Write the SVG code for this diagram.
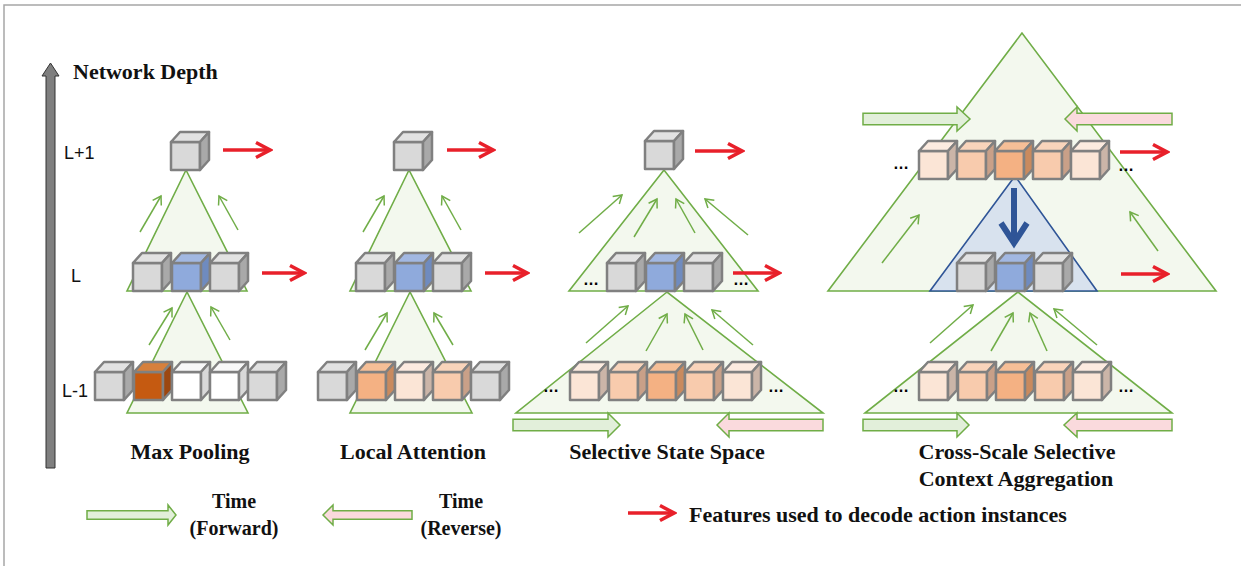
<svg xmlns="http://www.w3.org/2000/svg" width="1241" height="566" viewBox="0 0 1241 566">
  <defs>
    <style>
      .frame{stroke:#a6a6a6;stroke-width:1.5;fill:none}
      .tri{fill:#f3f8ee;stroke:#70ad47;stroke-width:1.6;stroke-linejoin:miter}
      .btri{fill:#d8e2ee;stroke:#2f5597;stroke-width:1.6}
      .gray{--f:#d9d9d9;--t:#e2e2e2;--s:#a9a9a9}
      .blue{--f:#8faadc;--t:#a2b8e2;--s:#6f8bbf}
      .dor{--f:#c55a11;--t:#d6803d;--s:#9c4710}
      .wht{--f:#ffffff;--t:#f8f8f8;--s:#d9d9d9}
      .org{--f:#f4b183;--t:#f6bf97;--s:#c98a5e}
      .med{--f:#f8cbad;--t:#f9d4bb;--s:#c9a088}
      .lgt{--f:#fbe5d6;--t:#fcebe0;--s:#cbb5a8}
      .ga{stroke:#70ad47;stroke-width:1.5;fill:none;marker-end:url(#gh)}
      .ra{stroke:#e8202a;stroke-width:3.5;fill:none;marker-end:url(#rh)}
      .fwd{fill:#e2efda;stroke:#70ad47;stroke-width:1.5}
      .rev{fill:#fadadd;stroke:#70ad47;stroke-width:1.5}
      .lbl{font-family:"Liberation Serif","Times New Roman",serif;font-weight:bold;font-size:22px;fill:#111;text-anchor:middle}
      .leg{font-family:"Liberation Serif","Times New Roman",serif;font-weight:bold;font-size:20px;fill:#111;text-anchor:middle}
      .lvl{font-family:"Liberation Sans",Arial,sans-serif;font-size:18px;fill:#111}
      .dots{font-family:"Liberation Sans",Arial,sans-serif;font-weight:bold;font-size:16px;fill:#000}
    </style>
    <!-- open chevron heads -->
    <marker id="gh" markerUnits="userSpaceOnUse" markerWidth="12" markerHeight="12" viewBox="-10 -6 12 12" refX="0" refY="0" orient="auto">
      <path d="M-8,-5 L0,0 L-8,5" fill="none" stroke="#70ad47" stroke-width="1.5"/>
    </marker>
    <marker id="rh" markerUnits="userSpaceOnUse" markerWidth="20" markerHeight="20" viewBox="-17 -10 20 20" refX="0" refY="0" orient="auto">
      <path d="M-14,-7.5 L0,0 L-14,7.5" fill="none" stroke="#e8202a" stroke-width="3.5"/>
    </marker>
    <!-- feature cube: front, top and side faces take their colours from custom properties set per class -->
    <g id="cb" stroke="#808080" stroke-width="2.5" stroke-linejoin="round">
      <rect x="0" y="0" width="29" height="28" style="fill:var(--f)"/>
      <path d="M0,0 L9,-10 H38 L29,0 Z" style="fill:var(--t)"/>
      <path d="M29,0 L38,-10 V18 L29,28 Z" style="fill:var(--s)"/>
    </g>
  </defs>

  <rect width="1241" height="566" fill="#ffffff"/>
  <path class="frame" d="M4,566 V5 H1241"/>

  <!-- depth axis -->
  <g id="depth-axis">
    <path d="M46,468 V76 H42 L50.5,63 L59,76 H55 V468 Z" fill="#7f7f7f" stroke="#333" stroke-width="1"/>
    <text class="lbl" x="73" y="79" style="text-anchor:start">Network Depth</text>
    <text class="lvl" x="64" y="159">L+1</text>
    <text class="lvl" x="71" y="282">L</text>
    <text class="lvl" x="62" y="397">L-1</text>
  </g>

  <!-- receptive-field triangles -->
  <g id="fields">
    <polygon class="tri" points="186,170 127,291 247,291"/>
    <polygon class="tri" points="187,292 127,413 248,413"/>
    <polygon class="tri" points="409,170 350,291 471,291"/>
    <polygon class="tri" points="410,292 350,413 472,413"/>
    <polygon class="tri" points="664,170 569,291 758,291"/>
    <polygon class="tri" points="667,292 516,413 823,413"/>
    <polygon class="tri" points="1022,33 828,291 1216,291"/>
    <polygon class="btri" points="1015,176 930,291 1097,291"/>
    <polygon class="tri" points="1018,292 865,413 1172,413"/>
  </g>

  <!-- Max Pooling -->
  <g id="max-pooling">
    <use href="#cb" class="gray" x="171" y="142"/>
    <use href="#cb" class="gray" x="133" y="263"/>
    <use href="#cb" class="blue" x="172" y="263"/>
    <use href="#cb" class="gray" x="210" y="263"/>
    <use href="#cb" class="gray" x="95" y="372"/>
    <use href="#cb" class="dor" x="134" y="372"/>
    <use href="#cb" class="wht" x="172" y="372"/>
    <use href="#cb" class="wht" x="210" y="372"/>
    <use href="#cb" class="gray" x="248" y="372"/>
    <text class="lbl" x="190" y="459">Max Pooling</text>
  </g>

  <!-- Local Attention -->
  <g id="local-attention">
    <use href="#cb" class="gray" x="394" y="142"/>
    <use href="#cb" class="gray" x="356" y="263"/>
    <use href="#cb" class="blue" x="395" y="263"/>
    <use href="#cb" class="gray" x="433" y="263"/>
    <use href="#cb" class="gray" x="318" y="372"/>
    <use href="#cb" class="org" x="357" y="372"/>
    <use href="#cb" class="lgt" x="395" y="372"/>
    <use href="#cb" class="med" x="433" y="372"/>
    <use href="#cb" class="gray" x="471" y="372"/>
    <text class="lbl" x="413" y="459">Local Attention</text>
  </g>

  <!-- Selective State Space -->
  <g id="selective-state-space">
    <use href="#cb" class="gray" x="645" y="141"/>
    <use href="#cb" class="gray" x="607" y="263"/>
    <use href="#cb" class="blue" x="646" y="263"/>
    <use href="#cb" class="gray" x="684" y="263"/>
    <use href="#cb" class="lgt" x="570" y="372"/>
    <use href="#cb" class="med" x="609" y="372"/>
    <use href="#cb" class="org" x="647" y="372"/>
    <use href="#cb" class="med" x="685" y="372"/>
    <use href="#cb" class="lgt" x="723" y="372"/>
    <text class="dots" x="583" y="285">…</text>
    <text class="dots" x="733" y="285">…</text>
    <text class="dots" x="543" y="392">…</text>
    <text class="dots" x="768" y="392">…</text>
    <path class="fwd" d="M513,419.3 H608 V413 L620,425 L608,437 V430.7 H513 Z"/>
    <path class="rev" d="M823,419.3 H729 V413 L717,425 L729,437 V430.7 H823 Z"/>
    <text class="lbl" x="667" y="459">Selective State Space</text>
  </g>

  <!-- Cross-Scale Selective Context Aggregation -->
  <g id="cross-scale-aggregation">
    <use href="#cb" class="lgt" x="919" y="151"/>
    <use href="#cb" class="med" x="957" y="151"/>
    <use href="#cb" class="org" x="995" y="151"/>
    <use href="#cb" class="med" x="1033" y="151"/>
    <use href="#cb" class="lgt" x="1071" y="151"/>
    <use href="#cb" class="gray" x="957" y="263"/>
    <use href="#cb" class="blue" x="996" y="263"/>
    <use href="#cb" class="gray" x="1034" y="263"/>
    <use href="#cb" class="lgt" x="919" y="372"/>
    <use href="#cb" class="med" x="958" y="372"/>
    <use href="#cb" class="org" x="996" y="372"/>
    <use href="#cb" class="med" x="1035" y="372"/>
    <use href="#cb" class="lgt" x="1073" y="372"/>
    <text class="dots" x="893" y="169">…</text>
    <text class="dots" x="1118" y="171">…</text>
    <text class="dots" x="893" y="392">…</text>
    <text class="dots" x="1118" y="392">…</text>
    <path class="fwd" d="M863,113.3 H957 V107 L970,119 L957,131 V124.7 H863 Z"/>
    <path class="rev" d="M1172,113.3 H1077 V107 L1065,119 L1077,131 V124.7 H1172 Z"/>
    <path class="fwd" d="M863,419.3 H957 V413 L969,425 L957,437 V430.7 H863 Z"/>
    <path class="rev" d="M1172,419.3 H1077 V413 L1064,425 L1077,437 V430.7 H1172 Z"/>
    <!-- top-down cross-scale path -->
    <line x1="1014" y1="188" x2="1014" y2="240" stroke="#2f5597" stroke-width="6"/>
    <polyline points="1001,223 1014,243 1027,223" fill="none" stroke="#2f5597" stroke-width="6" stroke-linejoin="miter"/>
    <text class="lbl" x="1017" y="459">Cross-Scale Selective</text>
    <text class="lbl" x="1016" y="486">Context Aggregation</text>
  </g>

  <!-- connectors -->
  <g id="connectors">
    <line class="ga" x1="140" y1="232" x2="161" y2="196"/>
    <line class="ga" x1="238" y1="230" x2="219" y2="196"/>
    <line class="ga" x1="149" y1="345" x2="172" y2="308"/>
    <line class="ga" x1="230" y1="340" x2="211" y2="307"/>

    <line class="ga" x1="363" y1="232" x2="384" y2="196"/>
    <line class="ga" x1="461" y1="230" x2="442" y2="196"/>
    <line class="ga" x1="365" y1="350" x2="387" y2="313"/>
    <line class="ga" x1="453" y1="345" x2="434" y2="313"/>

    <line class="ga" x1="579" y1="233" x2="622" y2="195"/>
    <line class="ga" x1="634" y1="237" x2="657" y2="199"/>
    <line class="ga" x1="695" y1="233" x2="676" y2="199"/>
    <line class="ga" x1="748" y1="235" x2="705" y2="199"/>
    <line class="ga" x1="586" y1="343" x2="628" y2="306"/>
    <line class="ga" x1="646" y1="351" x2="667" y2="314"/>
    <line class="ga" x1="703" y1="350" x2="685" y2="314"/>
    <line class="ga" x1="753" y1="345" x2="712" y2="310"/>

    <line class="ga" x1="882" y1="263" x2="919" y2="215"/>
    <line class="ga" x1="1158" y1="251" x2="1130" y2="212"/>
    <line class="ga" x1="930" y1="343" x2="973" y2="305"/>
    <line class="ga" x1="991" y1="351" x2="1013" y2="313"/>
    <line class="ga" x1="1047" y1="351" x2="1030" y2="313"/>
    <line class="ga" x1="1097" y1="345" x2="1054" y2="309"/>

    <line class="ra" x1="223" y1="150" x2="270" y2="150"/>
    <line class="ra" x1="262" y1="273" x2="304" y2="273"/>
    <line class="ra" x1="447" y1="150" x2="493" y2="150"/>
    <line class="ra" x1="485" y1="273" x2="527" y2="273"/>
    <line class="ra" x1="695" y1="151" x2="742" y2="151"/>
    <line class="ra" x1="733" y1="273" x2="779" y2="273"/>
    <line class="ra" x1="1120" y1="152" x2="1167" y2="152"/>
    <line class="ra" x1="1121" y1="274" x2="1167" y2="274"/>
  </g>

  <!-- legend -->
  <g id="legend">
    <path class="fwd" d="M87,510.7 H168 V505 L176,515 L168,525 V519.3 H87 Z"/>
    <text class="leg" x="234" y="508">Time</text>
    <text class="leg" x="234" y="535">(Forward)</text>
    <path class="rev" d="M412,510.7 H333 V505 L323,515 L333,525 V519.3 H412 Z"/>
    <text class="leg" x="461" y="508">Time</text>
    <text class="leg" x="461" y="535">(Reverse)</text>
    <line class="ra" x1="628" y1="513" x2="674" y2="513"/>
    <text class="lbl" x="689" y="522" style="text-anchor:start">Features used to decode action instances</text>
  </g>
</svg>
